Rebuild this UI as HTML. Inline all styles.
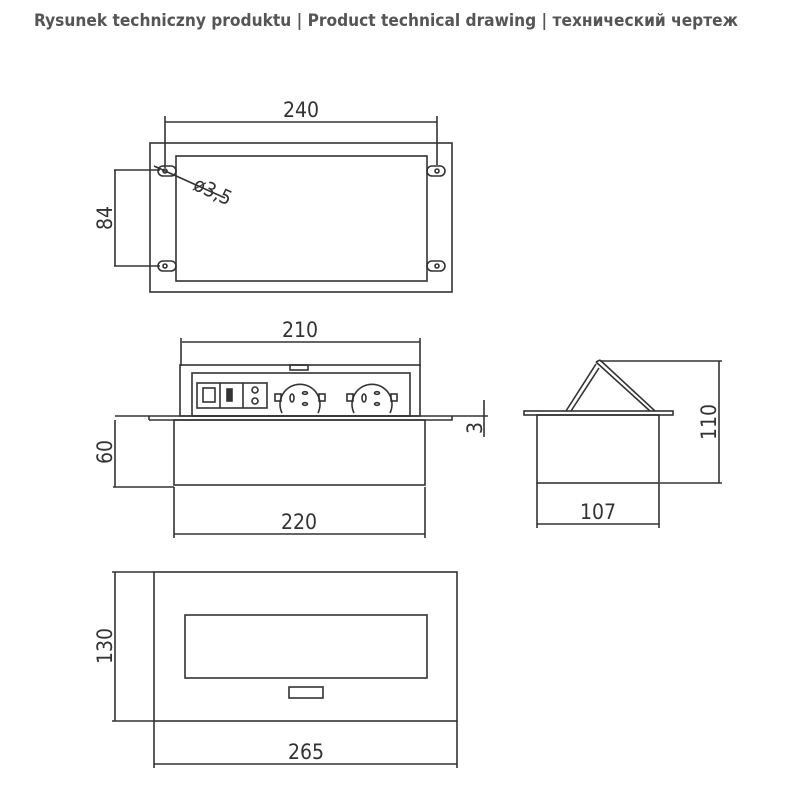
<!DOCTYPE html>
<html><head><meta charset="utf-8"><style>
html,body{margin:0;padding:0;background:#fff;}
svg{display:block}
text{font-family:"Liberation Sans Narrow","DejaVu Sans Condensed","Liberation Sans",sans-serif;fill:#333;}
</style></head><body>
<svg width="800" height="800" viewBox="0 0 800 800" xmlns="http://www.w3.org/2000/svg">
<text x="34" y="26" font-size="17" font-weight="bold" textLength="704" lengthAdjust="spacingAndGlyphs" style="fill:#555">Rysunek techniczny produktu | Product technical drawing | технический чертеж</text>
<g stroke="#333" stroke-width="1.6" fill="none">
<!-- top view -->
<rect x="150" y="143" width="302" height="149"/>
<rect x="176" y="156" width="251" height="125"/>
<line x1="165" y1="122" x2="437" y2="122"/>
<line x1="165" y1="116" x2="165" y2="168"/>
<line x1="437" y1="116" x2="437" y2="165"/>
<rect x="158" y="166" width="18" height="10" rx="5"/>
<rect x="427" y="166" width="18" height="10" rx="5"/>
<rect x="158" y="261" width="18" height="10" rx="5"/>
<rect x="427" y="261" width="18" height="10" rx="5"/>
<circle cx="165" cy="171" r="2"/><circle cx="437" cy="171" r="2"/>
<circle cx="165" cy="266" r="2"/><circle cx="437" cy="266" r="2"/>
<line x1="114" y1="170" x2="160" y2="170"/>
<line x1="114" y1="266" x2="160" y2="266"/>
<line x1="115" y1="170" x2="115" y2="266"/>
<line x1="154" y1="166" x2="225" y2="198"/>
<!-- front view -->
<line x1="182" y1="342" x2="420" y2="342"/>
<line x1="181" y1="338" x2="181" y2="366"/>
<line x1="420" y1="338" x2="420" y2="366"/>
<rect x="180" y="365" width="240" height="51"/>
<rect x="192" y="373" width="218" height="43"/>
<rect x="290" y="365" width="18" height="5"/>
<rect x="197" y="383" width="70" height="25"/>
<line x1="220" y1="383" x2="220" y2="408"/>
<line x1="243" y1="383" x2="243" y2="408"/>
<rect x="203" y="388" width="12" height="14"/>
<rect x="227" y="389" width="5" height="12" fill="#333"/>
<circle cx="255" cy="390" r="3"/><circle cx="255" cy="401" r="3"/>
<path d="M282 413 A20 20 0 1 1 318 413"/>
<path d="M354 413 A20 20 0 1 1 390 413"/>
<rect x="275" y="394" width="6" height="7"/><rect x="319" y="394" width="6" height="7"/>
<rect x="347" y="394" width="6" height="7"/><rect x="391" y="394" width="6" height="7"/>
<ellipse cx="292" cy="398" rx="2" ry="4"/><ellipse cx="364" cy="398" rx="2" ry="4"/>
<ellipse cx="305" cy="393" rx="2.5" ry="1.3"/><ellipse cx="305" cy="404" rx="2.5" ry="1.3"/>
<ellipse cx="377" cy="393" rx="2.5" ry="1.3"/><ellipse cx="377" cy="404" rx="2.5" ry="1.3"/>
<line x1="115" y1="416" x2="488" y2="416"/>
<path d="M149 420 L149 416 M149 420 L452 420 L452 416"/>
<rect x="174" y="420" width="251" height="65"/>
<line x1="115" y1="420" x2="115" y2="487"/>
<line x1="113" y1="487" x2="174" y2="487"/>
<line x1="484" y1="400" x2="484" y2="437"/>
<line x1="174" y1="487" x2="174" y2="538"/>
<line x1="425" y1="487" x2="425" y2="538"/>
<line x1="174" y1="534" x2="425" y2="534"/>
<!-- side view -->
<rect x="524" y="411" width="149" height="4"/>
<rect x="537" y="415" width="122" height="68"/>
<path d="M566 411 L596 364 M571 411 L599 368"/>
<path d="M596 362 L650 411 M600 360 L655 411 M596 362 L600 360"/>
<line x1="600" y1="361" x2="722" y2="361"/>
<line x1="660" y1="483" x2="722" y2="483"/>
<line x1="719" y1="361" x2="719" y2="483"/>
<line x1="537" y1="483" x2="537" y2="528"/>
<line x1="659" y1="483" x2="659" y2="528"/>
<line x1="537" y1="524" x2="659" y2="524"/>
<!-- bottom view -->
<rect x="154" y="572" width="303" height="149"/>
<rect x="185" y="615" width="242" height="63"/>
<rect x="289" y="687" width="34" height="11"/>
<line x1="112" y1="572" x2="154" y2="572"/>
<line x1="112" y1="721" x2="154" y2="721"/>
<line x1="115" y1="572" x2="115" y2="721"/>
<line x1="154" y1="721" x2="154" y2="768"/>
<line x1="457" y1="721" x2="457" y2="768"/>
<line x1="154" y1="764" x2="457" y2="764"/>
</g>
<g font-size="21">
<text x="301" y="117" text-anchor="middle">240</text>
<text transform="translate(112,218) rotate(-90)" text-anchor="middle">84</text>
<text transform="translate(192,189) rotate(25)" font-size="20">ø3,5</text>
<text x="300" y="337" text-anchor="middle">210</text>
<text transform="translate(112,452) rotate(-90)" text-anchor="middle">60</text>
<text transform="translate(482,428) rotate(-90)" text-anchor="middle">3</text>
<text x="299" y="529" text-anchor="middle">220</text>
<text transform="translate(716,422) rotate(-90)" text-anchor="middle">110</text>
<text x="598" y="519" text-anchor="middle">107</text>
<text transform="translate(112,646) rotate(-90)" text-anchor="middle">130</text>
<text x="306" y="759" text-anchor="middle">265</text>
</g>
</svg>
</body></html>
